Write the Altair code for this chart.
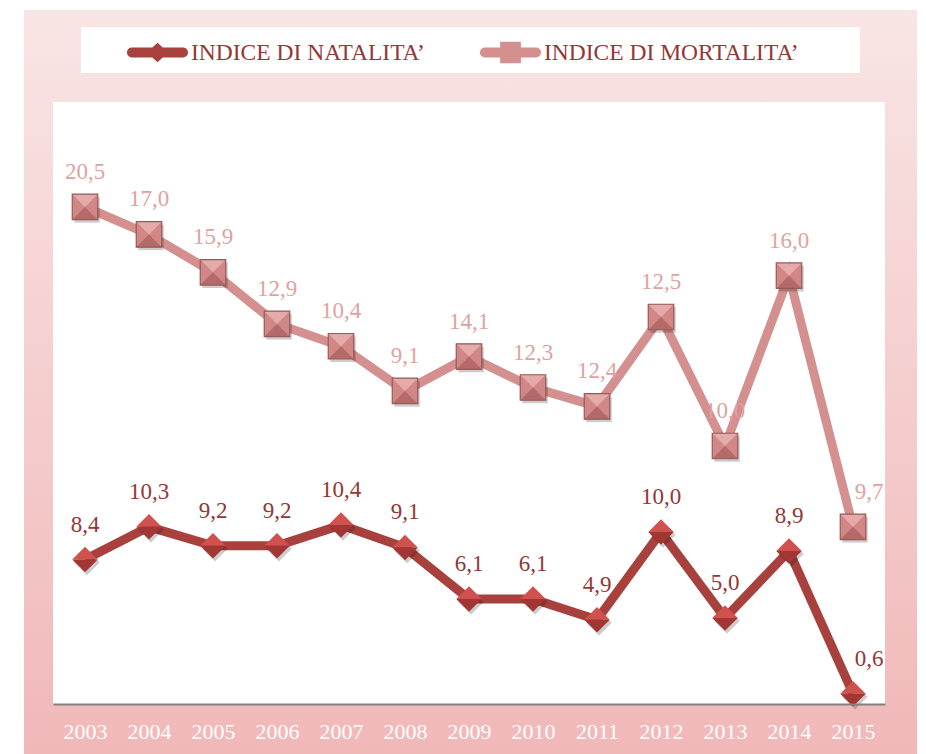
import altair as alt
import pandas as pd

# ---- data ----
years = ["2003", "2004", "2005", "2006", "2007", "2008", "2009", "2010", "2011", "2012", "2013", "2014", "2015"]
natalita = [8.4, 10.3, 9.2, 9.2, 10.4, 9.1, 6.1, 6.1, 4.9, 10.0, 5.0, 8.9, 0.6]
mortalita = [20.5, 17.0, 15.9, 12.9, 10.4, 9.1, 14.1, 12.3, 12.4, 12.5, 10.0, 16.0, 9.7]
series_names = ["INDICE DI NATALITA\u2019", "INDICE DI MORTALITA\u2019"]

W, H = 832, 602
FONT = "Liberation Serif"

NAT_LINE = "#a8403e"
NAT_TOP = "#d0524f"
NAT_BOT = "#a23634"
NAT_LABEL = "#953735"
MOR_LINE = "#d48f8f"
MOR_FILL = "#d08786"
MOR_TOP = "#e4abaa"
MOR_BOT = "#b46a69"
MOR_STROKE = "#9a5857"
MOR_LABEL = "#e0a2a1"

df = pd.DataFrame({"year": years, "nat": natalita, "mor": mortalita})
one = pd.DataFrame({"k": [0]})
leg_df = pd.DataFrame({"serie": series_names})

base = alt.Chart(df).transform_calculate(
    cum="datum.nat + datum.mor",
    nat_lbl="replace(format(datum.nat, '.1f'), '.', ',')",
    mor_lbl="replace(format(datum.mor, '.1f'), '.', ',')",
)

X = alt.X("year:O", scale=alt.Scale(type="point", padding=0.5),
          axis=alt.Axis(title=None, labelAngle=0, ticks=False, grid=False,
                        domainColor="#808080", domainWidth=2,
                        labelColor="#ffffff", labelFont=FONT, labelFontSize=22,
                        labelPadding=17, zindex=1))
YS = alt.Scale(domain=[0, 35])
Ynat = alt.Y("nat:Q", scale=YS, axis=None)
Ycum = alt.Y("cum:Q", scale=YS, axis=None)

# decorations
bg = alt.Chart(one).mark_rect(
    fill=alt.LinearGradient(gradient="linear",
                            stops=[alt.GradientStop(offset=0, color="#f9e5e5"),
                                   alt.GradientStop(offset=1, color="#f1b8b8")],
                            x1=0, x2=0, y1=0, y2=1)
).encode(x=alt.value(-29), x2=alt.value(864), y=alt.value(-92), y2=alt.value(652))
legbox = alt.Chart(one).mark_rect(fill="#ffffff").encode(
    x=alt.value(28), x2=alt.value(807), y=alt.value(-75), y2=alt.value(-29))
plotbox = alt.Chart(one).mark_rect(fill="#ffffff").encode(
    x=alt.value(0), x2=alt.value(W), y=alt.value(0), y2=alt.value(H))

# lines
nat_line = base.mark_line(color=NAT_LINE, strokeWidth=9, strokeJoin="miter").encode(x=X, y=Ynat)
mor_line = base.mark_line(color=MOR_LINE, strokeWidth=9, strokeJoin="miter").encode(x=X, y=Ycum)

SZ = 650
TOP_TRI_D = "M-1,0L0,-1L1,0Z"
BOT_TRI_D = "M-1,0L0,1L1,0Z"
TOP_TRI_S = "M-1,-1L1,-1L0,0Z"
BOT_TRI_S = "M-1,1L1,1L0,0Z"

# shadows
nat_sh = base.mark_point(shape="diamond", filled=True, size=SZ, color="#000000",
                         opacity=0.2, xOffset=2, yOffset=3).encode(x=X, y=Ynat)
mor_sh = base.mark_point(shape="square", filled=True, size=SZ, color="#000000",
                         opacity=0.2, xOffset=2, yOffset=3).encode(x=X, y=Ycum)

# natalita diamonds
nat_top = base.mark_point(shape=TOP_TRI_D, filled=True, size=SZ, color=NAT_TOP, opacity=1).encode(x=X, y=Ynat)
nat_bot = base.mark_point(shape=BOT_TRI_D, filled=True, size=SZ, color=NAT_BOT, opacity=1).encode(x=X, y=Ynat)

# mortalita squares
mor_sq = base.mark_point(shape="square", filled=True, size=SZ, color=MOR_FILL, opacity=1).encode(x=X, y=Ycum)
mor_top = base.mark_point(shape=TOP_TRI_S, filled=True, size=SZ, color=MOR_TOP, opacity=1).encode(x=X, y=Ycum)
mor_bot = base.mark_point(shape=BOT_TRI_S, filled=True, size=SZ, color=MOR_BOT, opacity=1).encode(x=X, y=Ycum)
mor_edge = base.mark_point(shape="square", filled=False, size=SZ, stroke=MOR_STROKE,
                           strokeWidth=1.2, opacity=1).encode(x=X, y=Ycum)

# labels
def labels(field, yenc, color, last):
    flt = "datum.year == '2015'" if last else "datum.year != '2015'"
    return base.transform_filter(flt).mark_text(
        font=FONT, fontSize=23, color=color, baseline="alphabetic", align="center",
        dy=-28, dx=16 if last else 0
    ).encode(x=X, y=yenc, text=f"{field}:N")

nat_txt = labels("nat_lbl", Ynat, NAT_LABEL, False)
nat_txt2 = labels("nat_lbl", Ynat, NAT_LABEL, True)
mor_txt = labels("mor_lbl", Ycum, MOR_LABEL, False)
mor_txt2 = labels("mor_lbl", Ycum, MOR_LABEL, True)

# legend (symbols: thick bar + marker)
BAR = "M-0.84,-0.16H0.84A0.16,0.16 0 0 1 0.84,0.16H-0.84A0.16,0.16 0 0 1 -0.84,-0.16Z"
LEG_NAT = BAR + "M0,-0.32L0.35,0L0,0.32L-0.35,0Z"
LEG_MOR = BAR + "M-0.34,-0.35H0.34V0.35H-0.34Z"
leg = alt.Legend(title=None, orient="none", legendX=74, legendY=-80, direction="horizontal",
                 symbolSize=3721, symbolStrokeWidth=0, symbolOpacity=1,
                 labelFont=FONT, labelFontSize=23.5, labelColor=NAT_LABEL,
                 labelOffset=3, labelLimit=0, columnPadding=55, padding=0, zindex=2)
legend_layer = alt.Chart(leg_df).mark_point(filled=True, opacity=0, size=4).encode(
    color=alt.Color("serie:N", scale=alt.Scale(domain=series_names, range=[NAT_LINE, MOR_LINE]), legend=leg),
    shape=alt.Shape("serie:N", scale=alt.Scale(domain=series_names, range=[LEG_NAT, LEG_MOR]), legend=leg),
)

chart = alt.layer(
    bg, legbox, plotbox,
    mor_line, nat_line,
    nat_sh, mor_sh,
    nat_top, nat_bot,
    mor_sq, mor_top, mor_bot, mor_edge,
    nat_txt, nat_txt2, mor_txt, mor_txt2,
    legend_layer,
).properties(
    width=W, height=H,
    autosize=alt.AutoSizeParams(type="none"),
    padding={"left": 53, "top": 102, "right": 41, "bottom": 50},
    background="#ffffff",
).configure_view(stroke=None, fill=None)

chart.save("out.html", embed_options={"renderer": "svg", "actions": False})
